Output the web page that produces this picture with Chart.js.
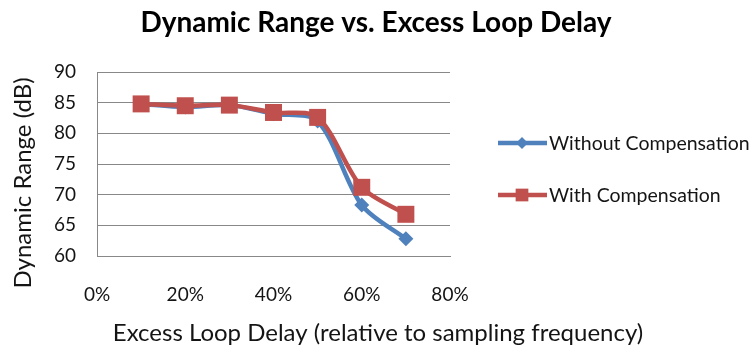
<!DOCTYPE html>
<html>
<head>
<meta charset="utf-8">
<script src="https://cdn.jsdelivr.net/npm/chart.js@4.4.1/dist/chart.umd.min.js"></script>
<style>
  html, body { margin: 0; padding: 0; background: #ffffff; }
  #wrap { width: 756px; height: 356px; }
</style>
</head>
<body>
<div id="wrap"><canvas id="chart" width="756" height="356"></canvas></div>
<script>
// Excess loop delay, in percent of the sampling period
const delays = [10, 20, 30, 40, 50, 60, 70];
// Dynamic range in dB for each delay
const withoutCompensation = [84.8, 84.3, 84.6, 83.2, 82.0, 68.3, 62.8];
const withCompensation    = [84.8, 84.5, 84.6, 83.4, 82.6, 71.2, 66.8];
// Axis ticks
const xTickValues = [0, 20, 40, 60, 80];
const yTickValues = [60, 65, 70, 75, 80, 85, 90];

const seriesNames = ['Without Compensation', 'With Compensation'];
const chartTitle = 'Dynamic Range vs. Excess Loop Delay';
const xTitle = 'Excess Loop Delay (relative to sampling frequency)';
const yTitle = 'Dynamic Range (dB)';

const BLUE = '#4F81BD';
const RED = '#C0504D';
const FONT = 'Lato';
const GRID = '#888888';
const TEXT = '#141414';

const toPoints = (ys) => delays.map((x, i) => ({ x, y: ys[i] }));

// Title, axis titles and the legend are painted after the chart itself
const decorations = {
  id: 'decorations',
  afterDraw(chart) {
    const ctx = chart.ctx;
    const H = Chart.helpers;
    ctx.save();
    ctx.fillStyle = '#000000';
    ctx.textAlign = 'center';
    ctx.textBaseline = 'middle';

    ctx.font = `bold 28px ${FONT}`;
    ctx.fillText(chartTitle, 376, 23);

    ctx.font = `24px ${FONT}`;
    ctx.fillStyle = TEXT;
    ctx.fillText(xTitle, 378, 333);

    ctx.save();
    ctx.translate(23, 183);
    ctx.rotate(-Math.PI / 2);
    ctx.fillText(yTitle, 0, 0);
    ctx.restore();

    // legend
    const rows = [143, 195];
    ctx.font = `19.5px ${FONT}`;
    ctx.textAlign = 'left';
    chart.data.datasets.forEach((ds, i) => {
      const y = rows[i];
      ctx.strokeStyle = ds.borderColor;
      ctx.lineWidth = ds.borderWidth;
      ctx.lineCap = 'butt';
      ctx.beginPath();
      ctx.moveTo(498, y);
      ctx.lineTo(547, y);
      ctx.stroke();
      ctx.fillStyle = ds.pointBackgroundColor;
      ctx.strokeStyle = ds.pointBorderColor;
      H.drawPoint(ctx, {
        pointStyle: ds.pointStyle,
        radius: ds.pointStyle === 'rect' ? 9 : 6,
        rotation: 0,
        borderWidth: 0
      }, 522, y);
      ctx.fillStyle = TEXT;
      ctx.fillText(ds.label, 549, y + 1);
    });
    ctx.restore();
  }
};

new Chart(document.getElementById('chart'), {
  type: 'line',
  data: {
    datasets: [
      {
        label: seriesNames[0],
        data: toPoints(withoutCompensation),
        borderColor: BLUE,
        backgroundColor: BLUE,
        pointBackgroundColor: BLUE,
        pointBorderColor: BLUE,
        pointStyle: 'rectRot',
        pointRadius: 7.5,
        pointBorderWidth: 0,
        borderWidth: 4.5,
        tension: 0.3,
        order: 1
      },
      {
        label: seriesNames[1],
        data: toPoints(withCompensation),
        borderColor: RED,
        backgroundColor: RED,
        pointBackgroundColor: RED,
        pointBorderColor: RED,
        pointStyle: 'rect',
        pointRadius: 12,
        pointBorderWidth: 0,
        borderWidth: 4.5,
        tension: 0.3,
        order: 0
      }
    ]
  },
  options: {
    responsive: false,
    animation: false,
    clip: false,
    layout: { padding: { left: 0, top: 72, right: 306, bottom: 0 } },
    plugins: {
      legend: { display: false },
      title: { display: false },
      tooltip: { enabled: false }
    },
    scales: {
      x: {
        type: 'linear',
        min: 0,
        max: 80,
        afterBuildTicks: (s) => { s.ticks = xTickValues.map((v) => ({ value: v })); },
        afterFit: (s) => { s.height = 100; },
        grid: { display: false, drawTicks: false },
        border: { display: true, color: GRID, width: 1 },
        ticks: {
          padding: 27,
          color: TEXT,
          font: { family: FONT, size: 19 },
          callback: (v) => v + '%',
          maxRotation: 0
        }
      },
      y: {
        type: 'linear',
        min: 60,
        max: 90,
        afterBuildTicks: (s) => { s.ticks = yTickValues.map((v) => ({ value: v })); },
        afterFit: (s) => { s.width = 97; },
        grid: { color: GRID, lineWidth: 1, drawTicks: false },
        border: { display: true, color: GRID, width: 1 },
        ticks: {
          padding: 21,
          color: TEXT,
          font: { family: FONT, size: 19 }
        }
      }
    }
  },
  plugins: [decorations]
});
</script>
</body>
</html>
